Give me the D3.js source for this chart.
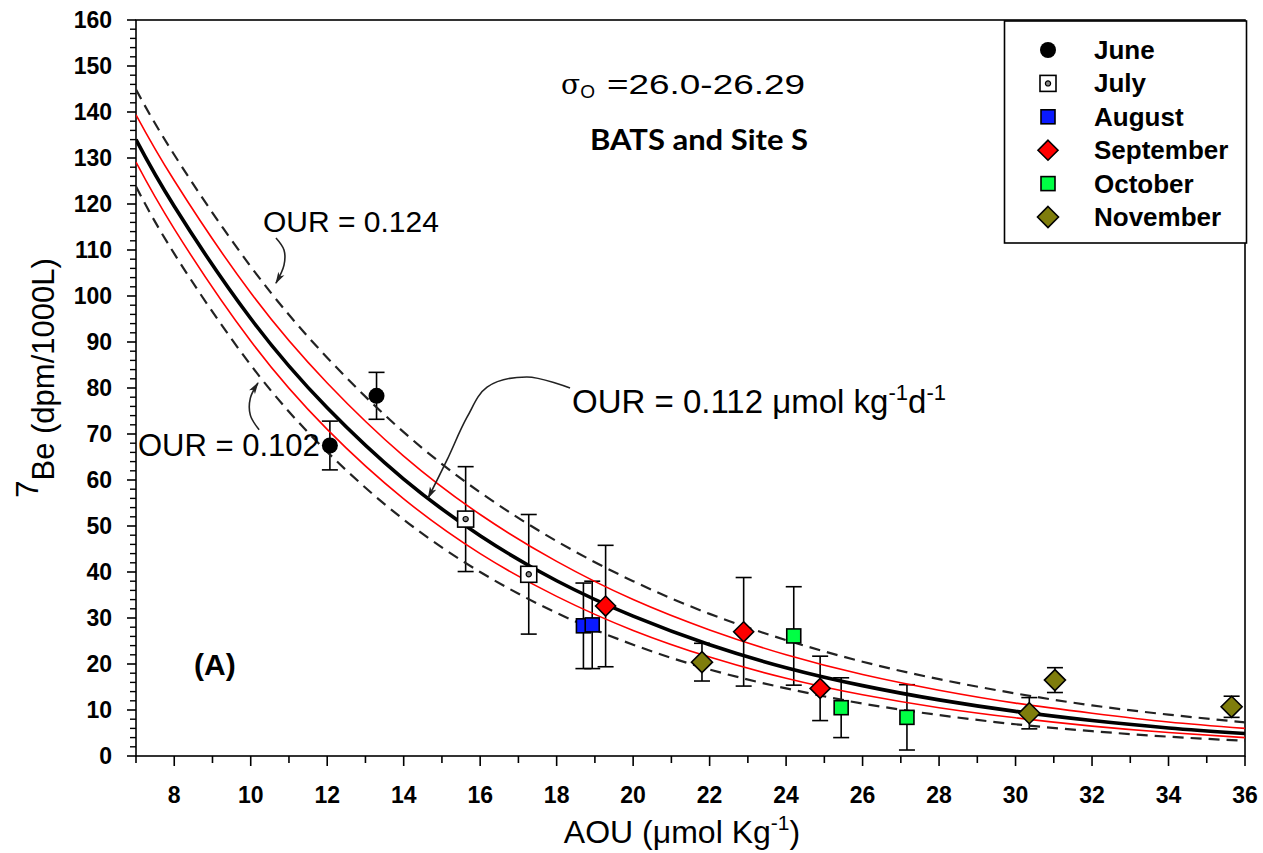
<!DOCTYPE html>
<html>
<head>
<meta charset="utf-8">
<script src="https://cdn.jsdelivr.net/npm/d3@7"></script>
<style>
  body { margin: 0; background: #fff; }
  text { font-family: "Liberation Sans", Arial, sans-serif; fill: #000; }
</style>
</head>
<body>
<svg id="chart"></svg>
<script>
// 7Be vs AOU, BATS and Site S

const months = ["June", "July", "August", "September", "October", "November"];

const pointMonth = ["June", "June", "July", "July", "August", "August",
    "September", "September", "September", "October", "October", "October",
    "November", "November", "November", "November"];
const pointAOU = [12.07, 13.29, 15.62, 17.27, 18.70, 18.93,
    19.28, 22.89, 24.89, 24.20, 25.44, 27.16,
    21.80, 30.36, 31.03, 35.65];
const pointBe = [67.5, 78.3, 51.5, 39.5, 28.3, 28.5,
    32.6, 27.0, 14.7, 26.1, 10.5, 8.4,
    20.4, 9.3, 16.5, 10.7];
const pointErr = [5.3, 5.1, 11.4, 13.0, 9.3, 9.5,
    13.2, 11.8, 7.0, 10.7, 6.5, 7.1,
    4.1, 3.4, 2.7, 2.3];

// model curves read at these AOU values
const curveAOU = [7, 8, 10, 12, 14, 16, 18, 20, 22, 24, 26, 28, 30, 32, 34, 36];
const our124 = [144.9, 130.7, 106.4, 86.6, 70.4, 57.3, 46.7, 38.0, 30.9, 25.2, 20.5, 16.7, 13.6, 11.0, 9.0, 7.3];
const redUpper = [139.4, 125.1, 100.7, 81.1, 65.2, 52.5, 42.3, 34.0, 27.4, 22.0, 17.7, 14.3, 11.5, 9.3, 7.4, 6.0];
const our112 = [134.0, 119.5, 95.1, 75.7, 60.2, 47.9, 38.1, 30.4, 24.2, 19.2, 15.3, 12.2, 9.7, 7.7, 6.1, 4.9];
const redLower = [129.1, 114.6, 90.2, 71.0, 55.9, 44.0, 34.7, 27.3, 21.5, 16.9, 13.3, 10.5, 8.3, 6.5, 5.1, 4.0];
const our102 = [123.8, 109.2, 85.0, 66.1, 51.4, 40.0, 31.1, 24.2, 18.8, 14.7, 11.4, 8.9, 6.9, 5.4, 4.2, 3.3];

const xTickValues = [8, 10, 12, 14, 16, 18, 20, 22, 24, 26, 28, 30, 32, 34, 36];
const yTickValues = [0, 10, 20, 30, 40, 50, 60, 70, 80, 90, 100, 110, 120, 130, 140, 150, 160];

const width = 1263, height = 853;
const plotLeft = 136, plotRight = 1245, plotTop = 20, plotBottom = 756;

const svg = d3.select("#chart")
    .attr("width", width)
    .attr("height", height)
    .attr("viewBox", [0, 0, width, height]);

const x = d3.scaleLinear().domain([7, 36]).range([plotLeft, plotRight]);
const y = d3.scaleLinear().domain([0, 160]).range([plotBottom, plotTop]);

const defs = svg.append("defs");
defs.append("clipPath").attr("id", "plot-clip")
    .append("rect")
    .attr("x", plotLeft).attr("y", plotTop)
    .attr("width", plotRight - plotLeft).attr("height", plotBottom - plotTop);

defs.append("marker")
    .attr("id", "arrow")
    .attr("viewBox", "0 0 12 8")
    .attr("refX", 11).attr("refY", 4)
    .attr("markerWidth", 12).attr("markerHeight", 8)
    .attr("markerUnits", "userSpaceOnUse")
    .attr("orient", "auto")
    .append("path")
    .attr("d", "M0,0.5 L12,4 L0,7.5 L3,4 Z")
    .attr("fill", "#222");

// frame
svg.append("rect")
    .attr("x", plotLeft).attr("y", plotTop)
    .attr("width", plotRight - plotLeft).attr("height", plotBottom - plotTop)
    .attr("fill", "none")
    .attr("stroke", "#000")
    .attr("stroke-width", 1.6);

// x axis ticks
const xMinor = d3.range(7, 36, 2);
svg.append("g").selectAll("line").data(xMinor).join("line")
    .attr("x1", d => x(d)).attr("x2", d => x(d))
    .attr("y1", plotBottom).attr("y2", plotBottom + 7)
    .attr("stroke", "#000").attr("stroke-width", 1.6);
svg.append("g").selectAll("line").data(xTickValues).join("line")
    .attr("x1", d => x(d)).attr("x2", d => x(d))
    .attr("y1", plotBottom).attr("y2", plotBottom + 10)
    .attr("stroke", "#000").attr("stroke-width", 1.6);
svg.append("g").selectAll("text").data(xTickValues).join("text")
    .attr("x", d => x(d))
    .attr("y", 803)
    .attr("text-anchor", "middle")
    .style("font-size", "23px")
    .style("font-weight", "bold")
    .text(d => d);

// y axis ticks
const yMinor = d3.range(0, 161, 2).filter(d => d % 10 !== 0);
svg.append("g").selectAll("line").data(yMinor).join("line")
    .attr("x1", plotLeft - 6).attr("x2", plotLeft)
    .attr("y1", d => y(d)).attr("y2", d => y(d))
    .attr("stroke", "#000").attr("stroke-width", 1.4);
svg.append("g").selectAll("line").data(yTickValues).join("line")
    .attr("x1", plotLeft - 9).attr("x2", plotLeft)
    .attr("y1", d => y(d)).attr("y2", d => y(d))
    .attr("stroke", "#000").attr("stroke-width", 1.6);
svg.append("g").selectAll("text").data(yTickValues).join("text")
    .attr("x", 112)
    .attr("y", d => y(d) + 8.2)
    .attr("text-anchor", "end")
    .style("font-size", "23px")
    .style("font-weight", "bold")
    .text(d => d);

// axis titles
const xTitle = svg.append("text")
    .attr("x", 682).attr("y", 843)
    .attr("text-anchor", "middle")
    .style("font-size", "32px");
xTitle.append("tspan").text("AOU (μmol Kg");
xTitle.append("tspan").attr("dy", -13).style("font-size", "21px").text("-1");
xTitle.append("tspan").attr("dy", 13).text(")");

const yTitle = svg.append("text")
    .attr("transform", "translate(54,378) rotate(-90)")
    .attr("text-anchor", "middle")
    .style("font-size", "31px");
yTitle.append("tspan").attr("dy", -16).text("7");
yTitle.append("tspan").attr("dy", 16).text("Be (dpm/1000L)");

// curves
const plot = svg.append("g").attr("clip-path", "url(#plot-clip)");
const line = d3.line()
    .x(d => x(d[0]))
    .y(d => y(d[1]))
    .curve(d3.curveNatural);

const curves = [
    { values: our124, stroke: "#222", width: 2.2, dash: "11,7" },
    { values: our102, stroke: "#222", width: 2.2, dash: "11,7" },
    { values: redUpper, stroke: "#ff0000", width: 1.6, dash: null },
    { values: redLower, stroke: "#ff0000", width: 1.6, dash: null },
    { values: our112, stroke: "#000", width: 3.6, dash: null }
];

// error bars under the curves
const points = pointAOU.map((a, i) => ({
    month: pointMonth[i], aou: a, be: pointBe[i], err: pointErr[i]
}));

const bars = plot.append("g")
    .attr("stroke", "#000")
    .attr("stroke-width", 1.6);
bars.selectAll("line.v").data(points).join("line")
    .attr("class", "v")
    .attr("x1", d => x(d.aou)).attr("x2", d => x(d.aou))
    .attr("y1", d => y(d.be + d.err)).attr("y2", d => y(d.be - d.err));
bars.selectAll("line.t").data(points).join("line")
    .attr("class", "t")
    .attr("x1", d => x(d.aou) - 8).attr("x2", d => x(d.aou) + 8)
    .attr("y1", d => y(d.be + d.err)).attr("y2", d => y(d.be + d.err));
bars.selectAll("line.b").data(points).join("line")
    .attr("class", "b")
    .attr("x1", d => x(d.aou) - 8).attr("x2", d => x(d.aou) + 8)
    .attr("y1", d => y(d.be - d.err)).attr("y2", d => y(d.be - d.err));

plot.selectAll("path.curve").data(curves).join("path")
    .attr("class", "curve")
    .attr("d", c => line(curveAOU.map((a, i) => [a, c.values[i]])))
    .attr("fill", "none")
    .attr("stroke", c => c.stroke)
    .attr("stroke-width", c => c.width)
    .attr("stroke-dasharray", c => c.dash);

// marker styles by month
const markerStyle = {
    June: { shape: "circle", fill: "#000", size: 8 },
    July: { shape: "square", fill: "#fff", size: 8 },
    August: { shape: "square", fill: "#0a1aff", size: 7 },
    September: { shape: "diamond", fill: "#ff0000", size: 10 },
    October: { shape: "square", fill: "#00ff44", size: 7 },
    November: { shape: "diamond", fill: "#7f7d0c", size: 10.5 }
};

function drawMarker(g, month) {
    const s = markerStyle[month];
    if (s.shape === "circle") {
        g.append("circle").attr("r", s.size).attr("fill", s.fill);
    } else if (s.shape === "square") {
        g.append("rect")
            .attr("x", -s.size).attr("y", -s.size)
            .attr("width", 2 * s.size).attr("height", 2 * s.size)
            .attr("fill", s.fill).attr("stroke", "#000").attr("stroke-width", 1.6);
        if (month === "July") {
            g.append("circle").attr("r", 2.6)
                .attr("fill", "#888").attr("stroke", "#000").attr("stroke-width", 1.2);
        }
    } else {
        const r = s.size;
        g.append("path")
            .attr("d", `M0,${-r}L${r},0L0,${r}L${-r},0Z`)
            .attr("fill", s.fill).attr("stroke", "#000").attr("stroke-width", 1.6);
    }
}

const marks = svg.append("g");
points.forEach(p => {
    const g = marks.append("g").attr("transform", `translate(${x(p.aou)},${y(p.be)})`);
    drawMarker(g, p.month);
});

// annotation arrows (data coordinates)
const arrow112 = [[18.35, 80.0], [17.22, 82.4], [16.18, 80.2], [15.66, 73.7], [15.13, 64.3], [14.64, 56.1]];
const arrow124 = [[10.66, 112.6], [10.87, 110.0], [10.87, 106.7], [10.66, 102.8]];
const arrow102 = [[10.22, 70.9], [9.99, 74.1], [9.99, 77.8], [10.19, 81.1]];

const arrowLine = d3.line()
    .x(d => x(d[0]))
    .y(d => y(d[1]))
    .curve(d3.curveCatmullRom);

svg.append("g").selectAll("path").data([arrow112, arrow124, arrow102]).join("path")
    .attr("d", arrowLine)
    .attr("fill", "none")
    .attr("stroke", "#222")
    .attr("stroke-width", 1.6)
    .attr("marker-end", "url(#arrow)");

// annotation labels
svg.append("text").attr("x", 263).attr("y", 232)
    .style("font-size", "30px").text("OUR = 0.124");
svg.append("text").attr("x", 138).attr("y", 456)
    .style("font-size", "31px").text("OUR = 0.102");

const our = svg.append("text").attr("x", 572).attr("y", 413)
    .style("font-size", "33px");
our.append("tspan").text("OUR = 0.112 μmol kg");
our.append("tspan").attr("dy", -13).style("font-size", "22px").text("-1");
our.append("tspan").attr("dy", 13).text("d");
our.append("tspan").attr("dy", -13).style("font-size", "22px").text("-1");

const sigma = svg.append("text").attr("x", 561).attr("y", 94);
sigma.append("tspan")
    .style("font-family", "'DejaVu Serif', serif")
    .style("font-size", "28px")
    .text("σ");
sigma.append("tspan").attr("dy", 4)
    .style("font-size", "19px")
    .text("O");
sigma.append("tspan").attr("x", 607).attr("dy", -4)
    .style("font-size", "28px")
    .attr("textLength", 198)
    .attr("lengthAdjust", "spacingAndGlyphs")
    .text("=26.0-26.29");

svg.append("text").attr("x", 590).attr("y", 150)
    .style("font-family", "Lato, 'Open Sans', sans-serif")
    .style("font-size", "28px")
    .style("font-weight", "bold")
    .attr("textLength", 218)
    .attr("lengthAdjust", "spacingAndGlyphs")
    .text("BATS and Site S");

svg.append("text").attr("x", 194).attr("y", 675)
    .style("font-size", "30px")
    .style("font-weight", "bold")
    .text("(A)");

// legend
const legend = svg.append("g");
legend.append("rect")
    .attr("x", 1004.5).attr("y", 21)
    .attr("width", 242).attr("height", 222)
    .attr("fill", "#fff")
    .attr("stroke", "#000")
    .attr("stroke-width", 1.6);

months.forEach((m, i) => {
    const cy = 50 + i * 33.4;
    const g = legend.append("g").attr("transform", `translate(1048,${cy})`);
    drawMarker(g, m);
    legend.append("text")
        .attr("x", 1094).attr("y", cy + 9)
        .style("font-size", "26px")
        .style("font-weight", "bold")
        .text(m);
});
</script>
</body>
</html>
